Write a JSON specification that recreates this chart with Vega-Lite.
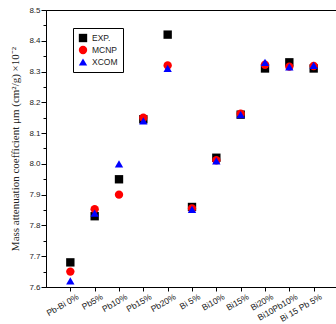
{
  "$schema": "https://vega.github.io/schema/vega-lite/v6.json",
  "width": 292,
  "height": 277,
  "autosize": {"type": "none"},
  "padding": {"left": 46, "top": 10, "right": 0, "bottom": 37},
  "background": "white",
  "view": {"stroke": "black", "strokeWidth": 1},
  "data": {
    "values": [
      {"sample": "Pb-Bi 0%", "series": "EXP.", "value": 7.68},
      {"sample": "Pb5%", "series": "EXP.", "value": 7.83},
      {"sample": "Pb10%", "series": "EXP.", "value": 7.95},
      {"sample": "Pb15%", "series": "EXP.", "value": 8.145},
      {"sample": "Pb20%", "series": "EXP.", "value": 8.42},
      {"sample": "Bi 5%", "series": "EXP.", "value": 7.86},
      {"sample": "Bi10%", "series": "EXP.", "value": 8.02},
      {"sample": "Bi15%", "series": "EXP.", "value": 8.16},
      {"sample": "Bi20%", "series": "EXP.", "value": 8.31},
      {"sample": "Bi10Pb10%", "series": "EXP.", "value": 8.33},
      {"sample": "Bi 15 Pb 5%", "series": "EXP.", "value": 8.31},
      {"sample": "Pb-Bi 0%", "series": "MCNP", "value": 7.65},
      {"sample": "Pb5%", "series": "MCNP", "value": 7.853},
      {"sample": "Pb10%", "series": "MCNP", "value": 7.90},
      {"sample": "Pb15%", "series": "MCNP", "value": 8.15},
      {"sample": "Pb20%", "series": "MCNP", "value": 8.32},
      {"sample": "Bi 5%", "series": "MCNP", "value": 7.855},
      {"sample": "Bi10%", "series": "MCNP", "value": 8.012},
      {"sample": "Bi15%", "series": "MCNP", "value": 8.163},
      {"sample": "Bi20%", "series": "MCNP", "value": 8.322},
      {"sample": "Bi10Pb10%", "series": "MCNP", "value": 8.316},
      {"sample": "Bi 15 Pb 5%", "series": "MCNP", "value": 8.318},
      {"sample": "Pb-Bi 0%", "series": "XCOM", "value": 7.62},
      {"sample": "Pb5%", "series": "XCOM", "value": 7.84},
      {"sample": "Pb10%", "series": "XCOM", "value": 8.00},
      {"sample": "Pb15%", "series": "XCOM", "value": 8.14},
      {"sample": "Pb20%", "series": "XCOM", "value": 8.31},
      {"sample": "Bi 5%", "series": "XCOM", "value": 7.852},
      {"sample": "Bi10%", "series": "XCOM", "value": 8.01},
      {"sample": "Bi15%", "series": "XCOM", "value": 8.16},
      {"sample": "Bi20%", "series": "XCOM", "value": 8.33},
      {"sample": "Bi10Pb10%", "series": "XCOM", "value": 8.315},
      {"sample": "Bi 15 Pb 5%", "series": "XCOM", "value": 8.32}
    ]
  },
  "mark": {"type": "point", "filled": true, "opacity": 1},
  "encoding": {
    "x": {
      "field": "sample",
      "type": "ordinal",
      "sort": null,
      "scale": {"type": "point", "padding": 1},
      "axis": {
        "title": null,
        "domainColor": "black",
        "tickColor": "black",
        "tickSize": 4,
        "labelAngle": -30,
        "labelAlign": "right",
        "labelBaseline": "top",
        "labelFont": "Liberation Sans",
        "labelFontSize": 8.5,
        "labelColor": "#222",
        "labelPadding": 1,
        "labelOffset": 5
      }
    },
    "y": {
      "field": "value",
      "type": "quantitative",
      "scale": {"domain": [7.6, 8.5], "nice": false, "zero": false},
      "axis": {
        "title": "Mass attenuation coefficient  μm  (cm²/g)  ×10⁻²",
        "titleFont": "Liberation Serif",
        "titleFontSize": 11,
        "titleFontWeight": "normal",
        "titleColor": "#222",
        "titlePadding": 8,
        "values": [7.6, 7.65, 7.7, 7.75, 7.8, 7.85, 7.9, 7.95, 8.0, 8.05, 8.1, 8.15, 8.2, 8.25, 8.3, 8.35, 8.4, 8.45, 8.5],
        "labelExpr": "abs(datum.value*10 - round(datum.value*10)) < 0.01 ? format(datum.value, '.1f') : ''",
        "tickSize": {"condition": {"test": "abs(datum.value*10 - round(datum.value*10)) < 0.01", "value": 5}, "value": 3},
        "domainColor": "black",
        "tickColor": "black",
        "grid": false,
        "labelFont": "Liberation Sans",
        "labelFontSize": 8,
        "labelColor": "#222",
        "labelPadding": 1
      }
    },
    "color": {
      "field": "series",
      "type": "nominal",
      "scale": {"domain": ["EXP.", "MCNP", "XCOM"], "range": ["black", "red", "blue"]},
      "legend": {
        "title": null,
        "orient": "none",
        "legendX": 27,
        "legendY": 18,
        "strokeColor": "black",
        "fillColor": "white",
        "padding": 5,
        "labelFont": "Liberation Sans",
        "labelFontSize": 8.5,
        "labelColor": "#222",
        "symbolSize": 70,
        "rowPadding": 2,
        "labelLimit": 40
      }
    },
    "shape": {
      "field": "series",
      "type": "nominal",
      "scale": {"domain": ["EXP.", "MCNP", "XCOM"], "range": ["square", "circle", "triangle-up"]},
      "legend": null
    },
    "size": {"value": 70}
  }
}
